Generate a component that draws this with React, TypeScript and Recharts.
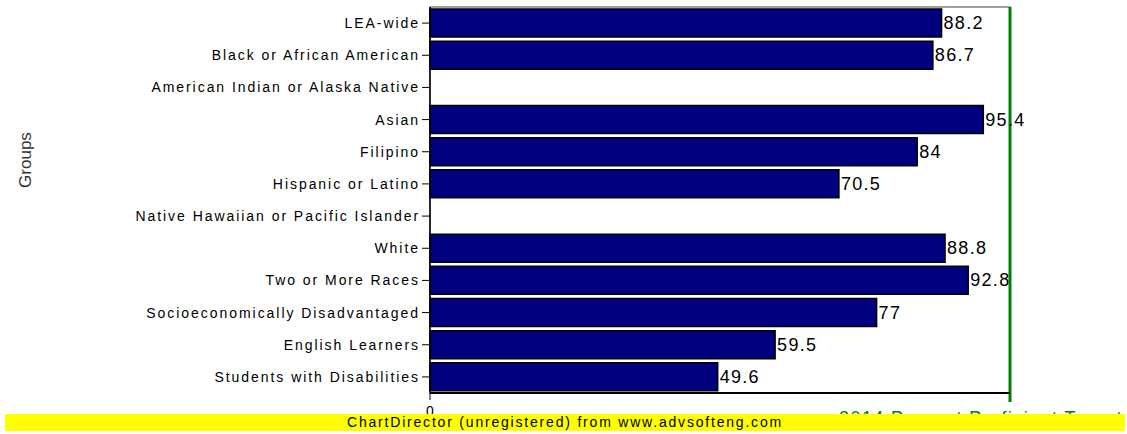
import {
  BarChart,
  Bar,
  XAxis,
  YAxis,
  LabelList,
  ReferenceLine,
  ReferenceArea,
} from "recharts";

const groups = [
  "LEA-wide",
  "Black or African American",
  "American Indian or Alaska Native",
  "Asian",
  "Filipino",
  "Hispanic or Latino",
  "Native Hawaiian or Pacific Islander",
  "White",
  "Two or More Races",
  "Socioeconomically Disadvantaged",
  "English Learners",
  "Students with Disabilities",
];

const percentProficient = [88.2, 86.7, null, 95.4, 84, 70.5, null, 88.8, 92.8, 77, 59.5, 49.6];

const targetValue = 100;
const targetLabel = "2014 Percent Proficient Target";
const xTicks = [0];

const data = groups.map((group, i) => ({ group, value: percentProficient[i] }));

const labelFont = "Arial, 'Liberation Sans', sans-serif";

// eslint-disable-next-line @typescript-eslint/no-explicit-any
function ValueLabel(props: any) {
  const { x, y, width, height, value } = props;
  if (value == null) return null;
  return (
    <text
      x={x + width + 2}
      y={y + height / 2}
      dominantBaseline="central"
      fontFamily={labelFont}
      fontSize={18}
      letterSpacing={1.3}
      fill="#000"
    >
      {value}
    </text>
  );
}

// eslint-disable-next-line @typescript-eslint/no-explicit-any
function GroupsLabel({ viewBox }: any) {
  const cx = viewBox.x + 31;
  const cy = 160;
  return (
    <text
      x={cx}
      y={cy}
      transform={`rotate(-90, ${cx}, ${cy})`}
      textAnchor="middle"
      fontFamily={labelFont}
      fontSize={17}
      fill="#333"
    >
      Groups
    </text>
  );
}

// line runs from the plot's top edge down a little past the x axis
// eslint-disable-next-line @typescript-eslint/no-explicit-any
function TargetLine(props: any) {
  const { x1, y1, x2, y2 } = props;
  const top = Math.min(y1, y2);
  const bottom = Math.max(y1, y2);
  return <line x1={x1} y1={top} x2={x2} y2={bottom + 9} stroke="#008000" strokeWidth={3} />;
}

// eslint-disable-next-line @typescript-eslint/no-explicit-any
function TargetText({ viewBox }: any) {
  return (
    <text
      x={viewBox.x - 29}
      y={viewBox.y + viewBox.height + 31}
      textAnchor="middle"
      fontFamily={labelFont}
      fontSize={18}
      letterSpacing={1.4}
      fill="#008000"
    >
      {targetLabel}
    </text>
  );
}

export default function App() {
  return (
    <div style={{ position: "absolute", left: 0, top: 0, width: 1127, height: 434, background: "#fff" }}>
      <BarChart
        width={1127}
        height={434}
        data={data}
        layout="vertical"
        margin={{ top: 7, right: 117, bottom: 11, left: 0 }}
        barCategoryGap={2}
      >
        <XAxis
          type="number"
          domain={[0, targetValue]}
          ticks={xTicks}
          height={30}
          axisLine={{ stroke: "#000", strokeWidth: 2 }}
          tickLine={{ stroke: "#000" }}
          tickSize={7}
          tickMargin={6}
          tick={{ fill: "#000", fontSize: 14, fontFamily: labelFont }}
        />
        <YAxis
          type="category"
          dataKey="group"
          width={430}
          interval={0}
          axisLine={{ stroke: "#000", strokeWidth: 1.5 }}
          tickLine={{ stroke: "#000" }}
          tickSize={8}
          tickMargin={2}
          tick={{ fill: "#000", fontSize: 14, fontFamily: labelFont, letterSpacing: 1.95 }}
          label={{ content: <GroupsLabel /> }}
        />
        <ReferenceArea x1={0} x2={targetValue} fill="none" stroke="#808080" strokeWidth={1.5} />
        <Bar
          dataKey="value"
          fill="#000080"
          stroke="#000"
          strokeWidth={1.5}
          isAnimationActive={false}
        >
          <LabelList dataKey="value" content={<ValueLabel />} />
        </Bar>
        <ReferenceLine
          x={targetValue}
          shape={<TargetLine />}
          label={{ content: <TargetText /> }}
        />
      </BarChart>
      <div
        style={{
          position: "absolute",
          left: 5,
          top: 414,
          width: 1120,
          height: 17,
          background: "#ffff00",
          color: "#000",
          fontFamily: labelFont,
          fontSize: 14,
          letterSpacing: 1.8,
          lineHeight: "17px",
          textAlign: "center",
          whiteSpace: "nowrap",
        }}
      >
        ChartDirector (unregistered) from www.advsofteng.com
      </div>
    </div>
  );
}
